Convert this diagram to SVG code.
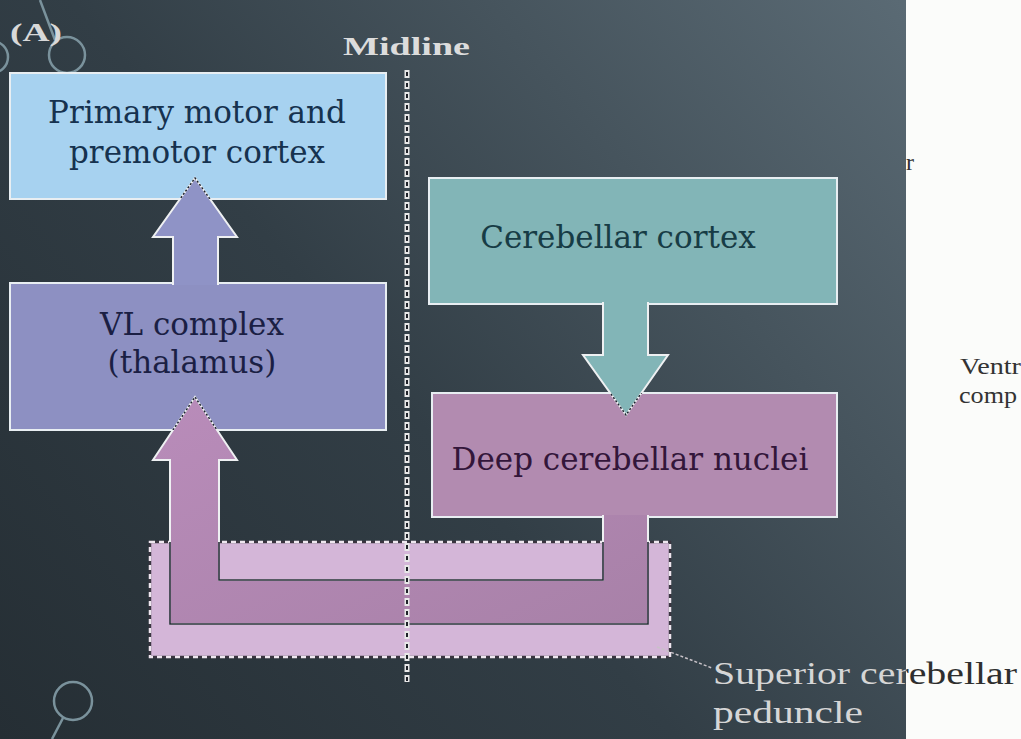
<svg xmlns="http://www.w3.org/2000/svg" width="1021" height="739" viewBox="0 0 1021 739">
<defs>
<linearGradient id="bg" gradientUnits="userSpaceOnUse" x1="900" y1="0" x2="0" y2="739">
<stop offset="0" stop-color="#5a6a74"/>
<stop offset="0.55" stop-color="#323e46"/>
<stop offset="1" stop-color="#252e34"/>
</linearGradient>
<linearGradient id="pink" x1="0" y1="0" x2="1" y2="1">
<stop offset="0" stop-color="#b98cba"/>
<stop offset="1" stop-color="#a881a8"/>
</linearGradient>
<linearGradient id="lbl" gradientUnits="userSpaceOnUse" x1="905" y1="0" x2="907" y2="0">
<stop offset="0" stop-color="#d6d6d6"/>
<stop offset="1" stop-color="#2e2e2e"/>
</linearGradient>
<clipPath id="pedClip"><rect x="150" y="542" width="520" height="115"/></clipPath>
<clipPath id="vlClip"><rect x="10" y="283" width="376" height="147"/></clipPath>
<clipPath id="pmClip"><rect x="10" y="73" width="376" height="126"/></clipPath>
<clipPath id="dpClip"><rect x="432" y="393" width="405" height="124"/></clipPath>
</defs>
<style>
.box{stroke:#e8eef2;stroke-width:2}
.lbl{font-family:"DejaVu Serif","Liberation Serif",serif;font-size:31px;text-anchor:middle}
.deco{fill:none;stroke:#7a929c;stroke-width:2.5}
.arrow{stroke:#eef0f2;stroke-width:2;stroke-linejoin:miter}
.tipdots{fill:none;stroke:#1e2430;stroke-width:1.5;stroke-dasharray:2 2}
.side{font-family:"Liberation Serif",serif;fill:#333;font-size:24px}
.ped{font-family:"Liberation Serif",serif;font-size:32px;fill:url(#lbl)}
</style>
<rect width="1021" height="739" fill="url(#bg)"/>
<rect x="906" y="0" width="115" height="739" fill="#fbfcfa"/>

<g id="decorations">
<line class="deco" x1="40" y1="0" x2="55" y2="40"/>
<circle class="deco" cx="67" cy="55" r="18"/>
<circle class="deco" cx="-8" cy="57" r="16"/>
<circle class="deco" cx="73" cy="701" r="19"/>
<line class="deco" x1="63" y1="718" x2="52" y2="739"/>
</g>

<g id="panel-label">
<text x="10" y="41" font-family="Liberation Serif,serif" font-weight="bold" font-size="26" fill="#d8d8d8" textLength="52" lengthAdjust="spacingAndGlyphs">(A)</text>
</g>

<g id="side-text">
<text class="side" x="906" y="170" font-size="28">r</text>
<text class="side" x="960" y="374" textLength="61" lengthAdjust="spacingAndGlyphs">Ventr</text>
<text class="side" x="959" y="403" textLength="58" lengthAdjust="spacingAndGlyphs">comp</text>
</g>

<g id="peduncle">
<rect x="150" y="542" width="520" height="115" fill="#d4b6d8" stroke="#3a3540" stroke-width="2.5"/>
<rect x="150" y="542" width="520" height="115" fill="none" stroke="#eee6ef" stroke-width="2.5" stroke-dasharray="5 4"/>
</g>

<g id="primary-motor">
<rect class="box" x="10" y="73" width="376" height="126" fill="#a7d2f0"/>
<text class="lbl" x="197" y="123" fill="#16324f">Primary motor and</text>
<text class="lbl" x="197" y="163" fill="#16324f">premotor cortex</text>
</g>

<g id="vl-complex">
<rect class="box" x="10" y="283" width="376" height="147" fill="#8d90c2"/>
<text class="lbl" x="192" y="335" fill="#1b1f44">VL complex</text>
<text class="lbl" x="192" y="373" fill="#1b1f44">(thalamus)</text>
</g>

<g id="cerebellar-cortex">
<rect class="box" x="429" y="178" width="408" height="126" fill="#82b5b7"/>
<text class="lbl" x="618" y="248" fill="#173c45">Cerebellar cortex</text>
</g>

<g id="deep-nuclei">
<rect class="box" x="432" y="393" width="405" height="124" fill="#b28bb0"/>
<text class="lbl" x="630" y="470" fill="#33163a">Deep cerebellar nuclei</text>
</g>

<g id="connectors">
<path class="arrow" fill="#8f93c6" d="M173,285 V237 H153 L195,178 L237,237 H218 V285"/>
<path class="tipdots" clip-path="url(#pmClip)" d="M153,237 L195,178 L237,237"/>
<path class="arrow" fill="#82b5b7" d="M603,302 V355 H583 L626,415 L668,355 H648 V302"/>
<path class="tipdots" clip-path="url(#dpClip)" d="M583,355 L626,415 L668,355"/>
<path class="arrow" fill="url(#pink)" d="M648,515 V624 H170 V460 H153 L195,397 L237,460 H219 V580 H603 V515"/>
<path fill="none" stroke="#262a36" stroke-width="1.6" clip-path="url(#pedClip)" d="M648,515 V624 H170 V460 M219,460 V580 H603 V515"/>
<path class="tipdots" clip-path="url(#vlClip)" d="M153,460 L195,397 L237,460"/>
<path fill="none" stroke="#c8c2c8" stroke-width="1.5" stroke-dasharray="3 2" d="M657,647 L712,668"/>
</g>

<g id="midline">
<line x1="407" y1="70" x2="407" y2="682" stroke="#e8e8e8" stroke-width="5" stroke-dasharray="8 3"/>
<line x1="407" y1="70" x2="407" y2="682" stroke="#1e2128" stroke-width="2" stroke-dasharray="4 7" stroke-dashoffset="-2"/>
<text x="343" y="55" font-family="Liberation Serif,serif" font-weight="bold" font-size="25" fill="#dcdcdc" textLength="127" lengthAdjust="spacingAndGlyphs">Midline</text>
</g>

<g id="peduncle-label">
<text class="ped" x="713" y="684" textLength="304" lengthAdjust="spacingAndGlyphs">Superior cerebellar</text>
<text class="ped" x="713" y="723" textLength="150" lengthAdjust="spacingAndGlyphs">peduncle</text>
</g>
</svg>
